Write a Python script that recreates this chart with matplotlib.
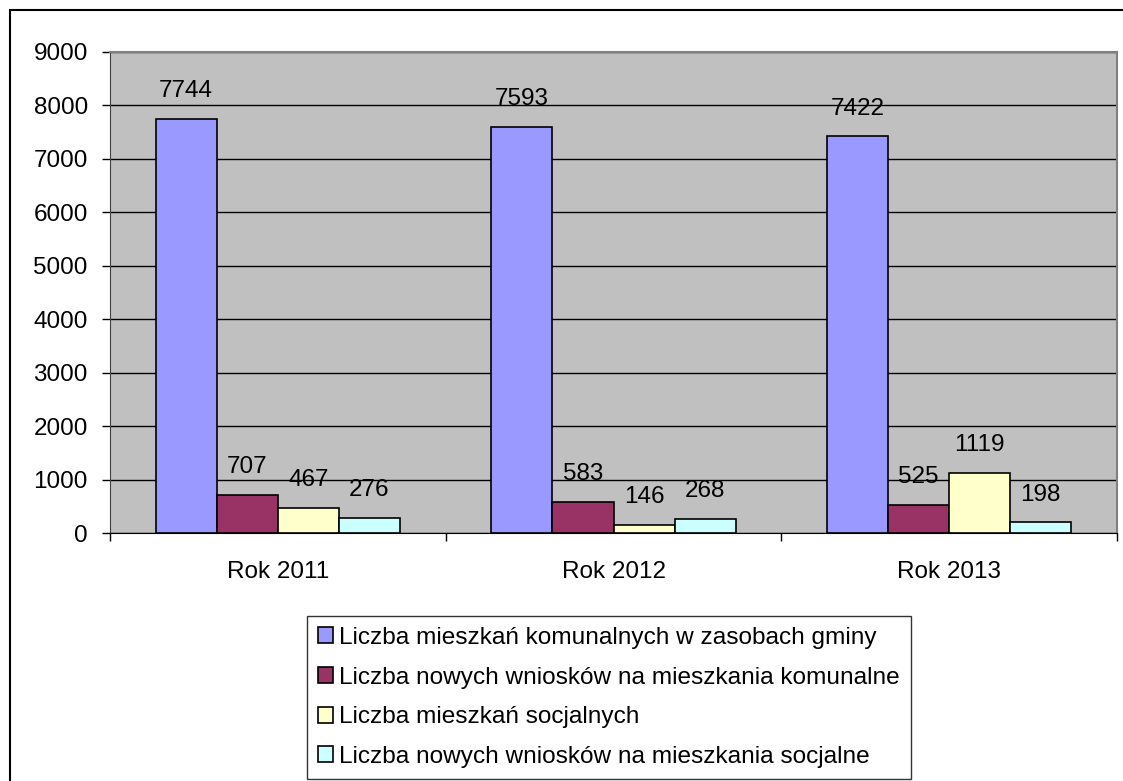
import numpy as np
import matplotlib
matplotlib.use("Agg")
import matplotlib.pyplot as plt
from matplotlib.patches import Rectangle

plt.rcParams['font.family'] = ['Liberation Sans', 'DejaVu Sans']

years = ["Rok 2011", "Rok 2012", "Rok 2013"]
series_names = [
    "Liczba mieszkań komunalnych w zasobach gminy",
    "Liczba nowych wniosków na mieszkania komunalne",
    "Liczba mieszkań socjalnych",
    "Liczba nowych wniosków na mieszkania socjalne",
]
komunalne = [7744, 7593, 7422]
wnioski_kom = [707, 583, 525]
socjalne = [467, 146, 1119]
wnioski_soc = [276, 268, 198]
colors = ["#9999FF", "#993366", "#FFFFCC", "#CCFFFF"]

W, H = 1123, 781
fig = plt.figure(figsize=(W / 100, H / 100), dpi=100)
ax = fig.add_axes([110 / W, 1 - 533 / H, (1117 - 110) / W, (533 - 52) / H])
ax.set_facecolor("#C0C0C0")

x = np.arange(len(years))
w = 0.182
data = [komunalne, wnioski_kom, socjalne, wnioski_soc]
for k, vals in enumerate(data):
    bars = ax.bar(x + (k - 1.5) * w, vals, width=w, color=colors[k],
                  edgecolor="black", linewidth=1.2, label=series_names[k], zorder=3)
    for b, v in zip(bars, vals):
        ax.annotate(str(v), (b.get_x() + b.get_width() / 2, v),
                    xytext=(0, 20), textcoords="offset points",
                    ha="center", va="center", fontsize=17.5)

ax.set_xlim(-0.5, 2.5)
ax.set_ylim(0, 9000)
ax.set_yticks(range(0, 9001, 1000))
ax.yaxis.grid(True, color="black", linewidth=1, zorder=0)
ax.set_axisbelow(True)
ax.tick_params(axis="y", direction="out", length=6, width=1, pad=10, labelsize=17.5)
ax.set_xticks(x)
ax.set_xticklabels(years)
ax.set_xticks([-0.5, 0.5, 1.5, 2.5], minor=True)
ax.tick_params(axis="x", which="major", length=0, pad=20, labelsize=17.5)
ax.tick_params(axis="x", which="minor", direction="out", length=6, width=1)
for s in ["top", "right"]:
    ax.spines[s].set_color("#808080")
    ax.spines[s].set_linewidth(1.5)
ax.spines["left"].set_color("#404040")
ax.spines["bottom"].set_color("black")

leg = fig.legend(loc="upper left", bbox_to_anchor=(307 / W, 1 - 616 / H),
                 fontsize=17.6, frameon=True, fancybox=False,
                 handlelength=0.62, handleheight=0.62, handletextpad=0.25,
                 labelspacing=0.72, borderpad=0.45, borderaxespad=0)
leg.get_frame().set_edgecolor("black")
leg.get_frame().set_linewidth(1)

fig.add_artist(Rectangle((10 / W, -0.1), 1.1, 1.1 - 10 / H, transform=fig.transFigure,
                         fill=False, edgecolor="black", linewidth=1.5))

fig.savefig("out.png", dpi=100)
